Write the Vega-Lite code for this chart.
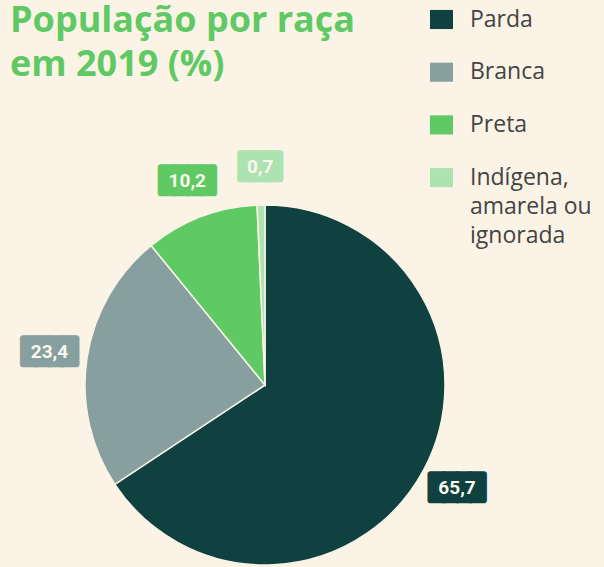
{
  "$schema": "https://vega.github.io/schema/vega-lite/v6.json",
  "width": 360,
  "height": 360,
  "autosize": {"type": "none"},
  "padding": {"left": 85, "top": 205, "right": 159, "bottom": 2},
  "background": "#faf3e6",
  "view": {"stroke": null},
  "config": {"style": {"guide-label": {"lineHeight": 29}}},
  "title": {
    "text": ["População por raça", "em 2019 (%)"],
    "anchor": "start",
    "frame": "group",
    "orient": "top",
    "offset": 0,
    "dx": -75,
    "dy": 75.5,
    "baseline": "top",
    "font": "Open Sans",
    "fontSize": 36,
    "fontWeight": "bold",
    "color": "#5fc964",
    "lineHeight": 44
  },
  "data": {
    "values": [
      {"raca": "Parda", "valor": 65.7, "rotulo": "65,7"},
      {"raca": "Branca", "valor": 23.4, "rotulo": "23,4"},
      {"raca": "Preta", "valor": 10.2, "rotulo": "10,2"},
      {"raca": "Indígena, amarela ou ignorada", "valor": 0.7, "rotulo": "0,7"}
    ]
  },
  "encoding": {
    "theta": {"field": "valor", "type": "quantitative", "stack": true},
    "order": {"field": "valor", "sort": "descending"}
  },
  "layer": [
    {
      "mark": {"type": "arc", "stroke": "#faf3e6", "strokeWidth": 1.5},
      "encoding": {
        "color": {
          "field": "raca",
          "type": "nominal",
          "sort": null,
          "scale": {
            "domain": ["Parda", "Branca", "Preta", "Indígena, amarela ou ignorada"],
            "range": ["#0f4141", "#87a09f", "#5fc964", "#ade3b0"]
          },
          "legend": {
            "orient": "none",
            "legendX": 345,
            "legendY": -197,
            "title": null,
            "padding": 0,
            "symbolType": "M-1,-0.83H1V0.83H-1Z",
            "symbolSize": 529,
            "symbolStrokeWidth": 0,
            "symbolOpacity": 1,
            "labelFont": "Open Sans",
            "labelFontSize": 23,
            "labelColor": "#444444",
            "labelOffset": 17,
            "labelLimit": 250,
            "rowPadding": 28.7,
            "labelExpr": "datum.label == 'Indígena, amarela ou ignorada' ? ['Indígena,', 'amarela ou', 'ignorada'] : datum.label"
          }
        }
      }
    },
    {
      "mark": {
        "type": "text",
        "radius": 218,
        "font": "DejaVu Sans Mono",
        "fontSize": 22,
        "align": "center",
        "baseline": "middle",
        "strokeWidth": 6,
        "strokeJoin": "round"
      },
      "encoding": {
        "text": {"condition": {"test": "datum.valor < 1", "value": "███"}, "value": "████"},
        "color": {"field": "raca", "type": "nominal", "sort": null, "legend": null},
        "stroke": {
          "field": "raca",
          "type": "nominal",
          "legend": null,
          "scale": {
            "domain": ["Parda", "Branca", "Preta", "Indígena, amarela ou ignorada"],
            "range": ["#0f4141", "#87a09f", "#5fc964", "#ade3b0"]
          }
        }
      }
    },
    {
      "mark": {
        "type": "text",
        "radius": 218,
        "font": "Roboto",
        "fontSize": 19,
        "fontWeight": "bold",
        "fill": "#fbf6ee",
        "align": "center",
        "baseline": "middle"
      },
      "encoding": {"text": {"field": "rotulo", "type": "nominal"}}
    }
  ]
}
